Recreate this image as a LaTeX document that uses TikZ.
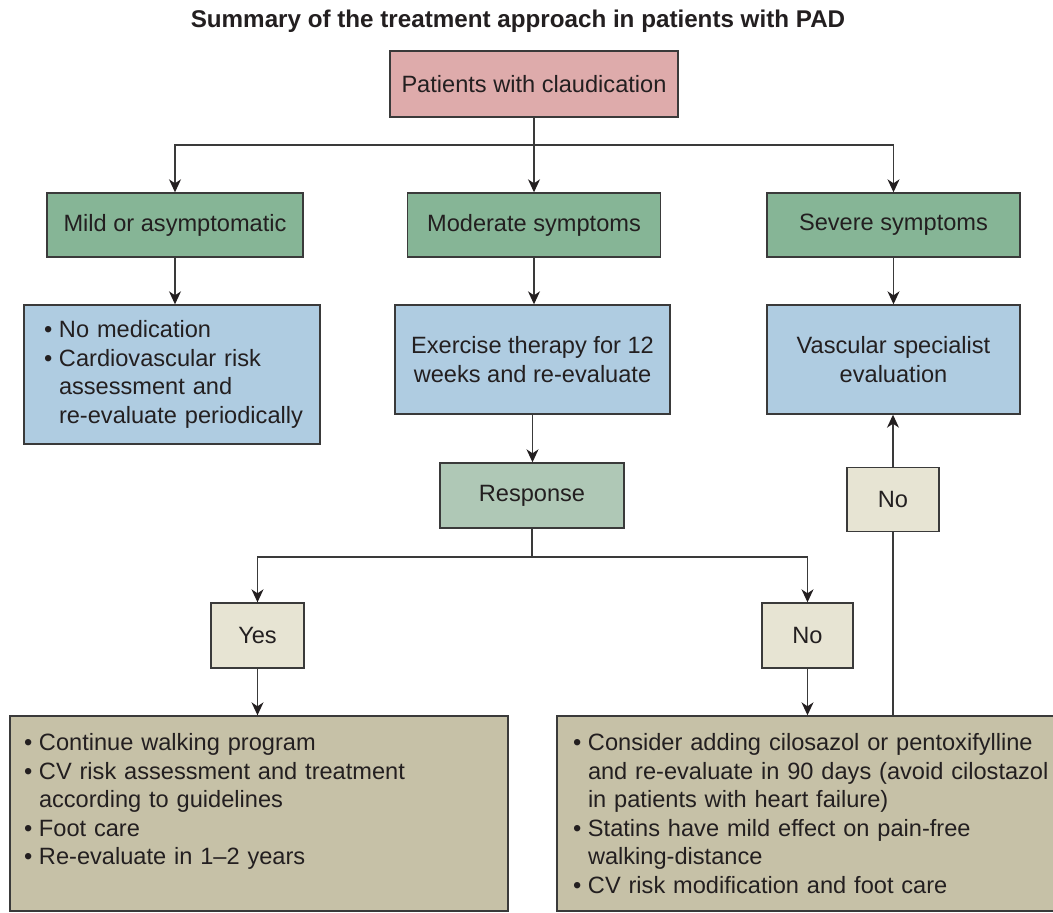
\documentclass[tikz,border=0pt]{standalone}
\usepackage{fontspec}
\setmainfont{Liberation Sans}
\usetikzlibrary{arrows.meta}
\definecolor{linec}{HTML}{3A3A3A}
\definecolor{tipc}{HTML}{231F20}
\definecolor{txt}{HTML}{231F20}
\definecolor{pinkf}{HTML}{DEABAB}
\definecolor{greenf}{HTML}{86B596}
\definecolor{bluef}{HTML}{AFCCE1}
\definecolor{respf}{HTML}{AFC8B6}
\definecolor{ansf}{HTML}{E7E4D3}
\definecolor{notef}{HTML}{C6C1A7}
\newcommand\fs{\fontsize{23.6}{28.6}\selectfont}
\newcommand\bl{\makebox[15pt][l]{•}}
\newcommand\ind{\hspace*{15pt}}
\begin{document}
\begin{tikzpicture}[x=1pt,y=1pt,
  box/.style={draw=linec, line width=1.4pt, text=txt, font=\fs, inner sep=0pt, align=center},
  listbox/.style={box, align=left},
  arr/.style={draw=linec, line width=1.3pt, -{Stealth[length=13pt,width=12pt,inset=4pt,color=tipc]}},
  ln/.style={draw=linec, line width=1.3pt}]
\useasboundingbox (0,0) rectangle (1053,-913);

\node[text=txt, font=\fontsize{24.2}{28.6}\selectfont\bfseries] (title) at (518,-21) {Summary of the treatment approach in patients with PAD};

\node[box, fill=pinkf, minimum width=288pt, minimum height=66pt] (pat) at (534,-84) {Patients with claudication};

\node[box, fill=greenf, minimum width=256pt, minimum height=64pt] (mild) at (175,-225) {Mild or asymptomatic};
\node[box, fill=greenf, minimum width=253pt, minimum height=64pt] (mod) at (534,-225) {Moderate symptoms};
\node[box, fill=greenf, minimum width=253pt, minimum height=64pt] (sev) at (893.5,-225) {Severe symptoms};

\node[listbox, fill=bluef, text width=256pt, inner xsep=20pt, minimum height=139pt] (b1) at (172,-374.5)
  {\mbox{\bl No medication}\\ \mbox{\bl Cardiovascular risk}\\ \mbox{\ind assessment and}\\ \mbox{\ind re-evaluate periodically}};
\node[box, fill=bluef, minimum width=275pt, minimum height=109pt] (b2) at (532.5,-359.5)
  {Exercise therapy for 12\\ weeks and re-evaluate};
\node[box, fill=bluef, minimum width=253pt, minimum height=109pt] (b3) at (893.5,-359.5)
  {Vascular specialist\\ evaluation};

\node[box, fill=respf, minimum width=184pt, minimum height=65pt] (resp) at (532,-495.5) {Response};

\node[box, fill=ansf, minimum width=93pt, minimum height=65pt] (yes) at (257.5,-635.5) {Yes};
\node[box, fill=ansf, minimum width=91pt, minimum height=65pt] (no1) at (807.5,-635.5) {No};
\node[box, fill=ansf, minimum width=92pt, minimum height=64pt] (no2) at (893,-499.5) {No};

\node[listbox, fill=notef, text width=470pt, inner xsep=14pt, minimum height=195pt] (bl) at (259,-813.5)
  {\mbox{\bl Continue walking program}\\ \mbox{\bl CV risk assessment and treatment}\\ \mbox{\ind according to guidelines}\\ \mbox{\bl Foot care}\\ \mbox{\bl Re-evaluate in 1–2 years}\\ \mbox{}};
\node[listbox, fill=notef, text width=466pt, inner xsep=16pt, minimum height=195pt] (br) at (806,-813.5)
  {\mbox{\bl Consider adding cilosazol or pentoxifylline}\\ \mbox{\ind and re-evaluate in 90 days (avoid cilostazol}\\ \mbox{\ind in patients with heart failure)}\\ \mbox{\bl Statins have mild effect on pain-free}\\ \mbox{\ind walking-distance}\\ \mbox{\bl CV risk modification and foot care}};

% first split
\coordinate (s1) at (534,-145);
\draw[ln] (pat.south) -- (s1);
\draw[arr] (s1) -| (mild.north);
\draw[arr] (s1) -| (sev.north);
\draw[arr] (s1) -- (mod.north);

\draw[arr] (mild.south) -- (mild.south |- b1.north);
\draw[arr] (mod.south) -- (mod.south |- b2.north);
\draw[arr] (sev.south) -- (sev.south |- b3.north);
\draw[arr] (b2.south) -- (b2.south |- resp.north);

% response split
\coordinate (s2) at (532,-557);
\draw[ln] (resp.south) -- (s2);
\draw[arr] (s2) -| (yes.north);
\draw[arr] (s2) -| (no1.north);

\draw[arr] (yes.south) -- (yes.south |- bl.north);
\draw[arr] (no1.south) -- (no1.south |- br.north);

% escalation path
\draw[ln] (no2.south |- br.north) -- (no2.south);
\draw[arr] (no2.north) -- (no2.north |- b3.south);
\end{tikzpicture}
\end{document}
